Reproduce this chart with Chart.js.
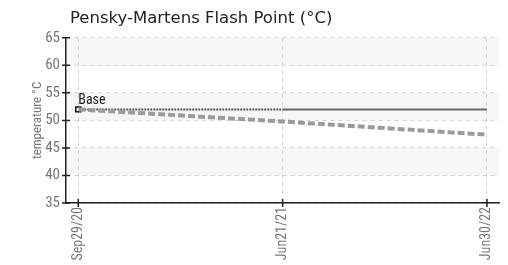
<!DOCTYPE html>
<html>
<head>
<meta charset="utf-8">
<script src="https://cdn.jsdelivr.net/npm/chart.js@4/dist/chart.umd.min.js"></script>
<style>
  html, body { margin: 0; padding: 0; background: #fff; }
  #wrap { width: 508px; height: 265px; }
</style>
</head>
<body>
<div id="wrap"><canvas id="chart"></canvas></div>
<script>
// chart data
const dateLabels = ['Sep29/20', 'Jun21/21', 'Jun30/22'];
const baseValues = [52, 52, 52];
const projectedValues = [52, 49.8, 47.4];
const yTicks = [35, 40, 45, 50, 55, 60, 65];
const shadedBands = [[60, 65], [50, 55], [40, 45]];
const baseLabel = 'Base';

const axisFont = "'Roboto Condensed', 'Liberation Sans Narrow', 'Liberation Sans', sans-serif";

// alternating grey bands behind the grid
const bandsPlugin = {
  id: 'bands',
  afterLayout(chart) {
    // nudge the title a little right of the plot edge
    if (chart.titleBlock) {
      chart.titleBlock.left += 4;
      chart.titleBlock.right += 4;
    }
  },
  beforeDraw(chart) {
    const { ctx, chartArea, scales } = chart;
    ctx.save();
    ctx.fillStyle = '#f6f6f6';
    for (const [lo, hi] of shadedBands) {
      const y1 = scales.y.getPixelForValue(hi);
      const y2 = scales.y.getPixelForValue(lo);
      ctx.fillRect(chartArea.left, y1, chartArea.right - chartArea.left, y2 - y1);
    }
    ctx.restore();
  }
};

// tick marks crossing both axes + the Base label
const marksPlugin = {
  id: 'marks',
  afterDraw(chart) {
    const { ctx, scales } = chart;
    const xs = scales.x, ys = scales.y;
    ctx.save();
    ctx.strokeStyle = '#222';
    ctx.lineWidth = 1.5;
    ctx.beginPath();
    for (const v of yTicks) {
      const y = ys.getPixelForValue(v);
      ctx.moveTo(ys.right - 4, y);
      ctx.lineTo(ys.right + 4, y);
    }
    dateLabels.forEach((d, i) => {
      const x = xs.getPixelForValue(i);
      ctx.moveTo(x, xs.top - 4);
      ctx.lineTo(x, xs.top + 4);
    });
    ctx.stroke();

    const pt = chart.getDatasetMeta(1).data[0];
    ctx.fillStyle = '#222';
    ctx.font = '14px ' + axisFont;
    ctx.textBaseline = 'alphabetic';
    ctx.fillText(baseLabel, pt.x, pt.y - 5.5);
    ctx.restore();
  }
};

new Chart(document.getElementById('chart'), {
  type: 'line',
  data: {
    datasets: [
      {
        label: 'Projected',
        data: projectedValues.map((v, i) => ({ x: i, y: v })),
        borderColor: '#9b9b9b',
        borderWidth: 4,
        borderDash: [7, 3],
        pointRadius: 0,
        fill: false,
        tension: 0
      },
      {
        label: baseLabel,
        data: baseValues.map((v, i) => ({ x: i, y: v })),
        borderColor: '#666',
        borderWidth: 2,
        pointStyle: 'rect',
        pointRadius: [3.5, 0, 0],
        pointBackgroundColor: '#fff',
        pointBorderColor: '#111',
        pointBorderWidth: 1.5,
        fill: false,
        tension: 0,
        segment: {
          borderDash: c => c.p0DataIndex === 0 ? [2, 1] : undefined,
          borderColor: c => c.p0DataIndex === 0 ? '#555' : '#666'
        }
      }
    ]
  },
  options: {
    responsive: true,
    maintainAspectRatio: false,
    animation: false,
    layout: { padding: { left: 0, right: 8, top: 0, bottom: 0 } },
    plugins: {
      legend: { display: false },
      tooltip: { enabled: false },
      title: {
        display: true,
        text: 'Pensky-Martens Flash Point (°C)',
        align: 'start',
        fullSize: false,
        color: '#222',
        font: { family: "'DejaVu Sans', sans-serif", size: 16.5, weight: 'normal' },
        padding: { top: 9, bottom: 9 }
      }
    },
    scales: {
      x: {
        type: 'linear',
        min: -0.06,
        max: 2.06,
        afterBuildTicks: s => { s.ticks = dateLabels.map((d, i) => ({ value: i })); },
        afterFit: s => { s.height = 62; },
        border: { display: true, color: '#222', width: 1.5, dash: [4, 4] },
        grid: { color: '#d4d4d4', drawTicks: false },
        ticks: {
          color: '#777',
          font: { family: axisFont, size: 14 },
          padding: 4,
          minRotation: 90,
          maxRotation: 90,
          autoSkip: false,
          callback: v => dateLabels[v]
        }
      },
      y: {
        min: 35,
        max: 65,
        afterBuildTicks: s => { s.ticks = yTicks.map(v => ({ value: v })); },
        afterFit: s => { s.width = 66; },
        border: { display: true, color: '#222', width: 1.5, dash: [4, 4] },
        grid: { color: '#d4d4d4', drawTicks: false },
        ticks: {
          color: '#777',
          font: { family: axisFont, size: 15 },
          padding: 6
        },
        title: {
          display: true,
          text: 'temperature °C',
          color: '#777',
          font: { family: axisFont, size: 13 },
          padding: { top: 30, bottom: 0 }
        }
      }
    }
  },
  plugins: [bandsPlugin, marksPlugin]
});
</script>
</body>
</html>
